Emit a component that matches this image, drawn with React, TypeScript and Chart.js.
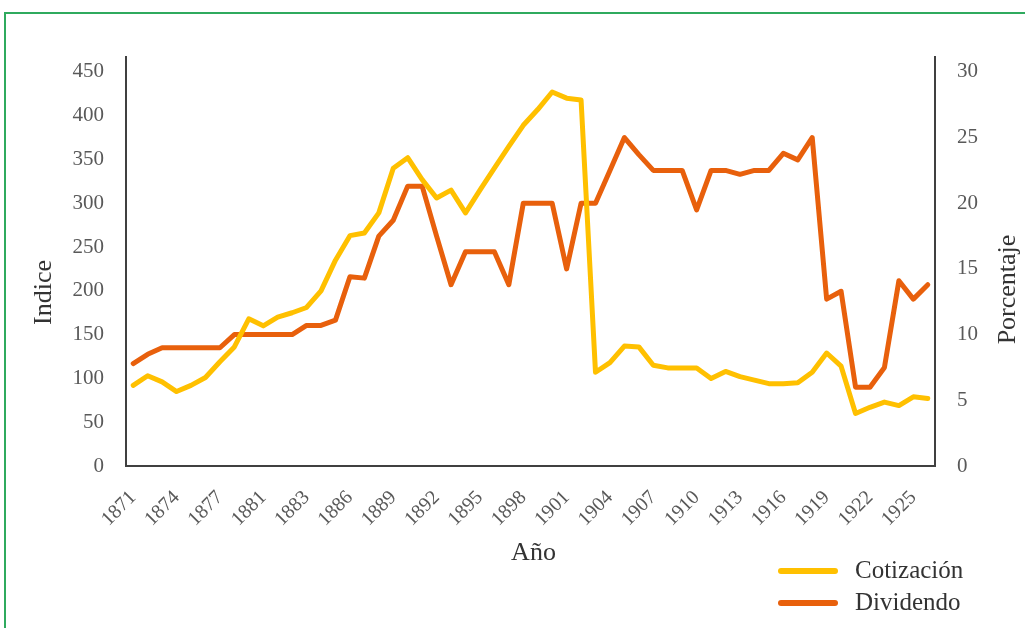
import React, { useEffect, useRef } from 'react';
import { Chart, registerables } from 'chart.js';

Chart.register(...registerables);

const years: string[] = [
  '1871', '1872', '1873', '1874', '1875', '1876', '1877', '1878', '1879', '1881',
  '1882', '1882', '1883', '1884', '1885', '1886', '1887', '1888', '1889', '1890',
  '1891', '1892', '1893', '1894', '1895', '1896', '1897', '1898', '1899', '1900',
  '1901', '1902', '1903', '1904', '1905', '1906', '1907', '1908', '1909', '1910',
  '1911', '1912', '1913', '1914', '1915', '1916', '1917', '1918', '1919', '1920',
  '1921', '1922', '1923', '1924', '1925', '1926',
];

const cotizacion: number[] = [
  92, 103, 96, 85, 92, 101, 119, 136, 168, 160,
  170, 175, 181, 200, 235, 263, 266, 289, 340, 352,
  327, 306, 315, 289, 315, 340, 365, 389, 407, 427,
  420, 418, 107, 118, 137, 136, 115, 112, 112, 112,
  100, 108, 102, 98, 94, 94, 95, 107, 129, 114,
  60, 67, 73, 69, 79, 77,
];

const dividendo: number[] = [
  7.8, 8.5, 9, 9, 9, 9, 9, 10, 10, 10,
  10, 10, 10.7, 10.7, 11.1, 14.4, 14.3, 17.5, 18.7, 21.3,
  21.3, 17.5, 13.8, 16.3, 16.3, 16.3, 13.8, 20, 20, 20,
  15, 20, 20, 22.5, 25, 23.7, 22.5, 22.5, 22.5, 19.5,
  22.5, 22.5, 22.2, 22.5, 22.5, 23.8, 23.3, 25, 12.7, 13.3,
  6, 6, 7.5, 14.1, 12.7, 13.8,
];

const leftTicks: number[] = [0, 50, 100, 150, 200, 250, 300, 350, 400, 450];
const rightTicks: number[] = [0, 5, 10, 15, 20, 25, 30];

const seriesNames = ['Cotización', 'Dividendo'];
const axisTitles = { x: 'Año', left: 'Indice', right: 'Porcentaje' };

const FONT = '"Liberation Serif", "Times New Roman", serif';
const YELLOW = '#FFC000';
const ORANGE = '#E8600C';
const TEXT = '#333333';
const TICK = '#595959';
const AXIS = '#404040';

const overlay = {
  id: 'overlay',
  afterDraw(chart: any) {
    const c = chart.ctx as CanvasRenderingContext2D;
    const a = chart.chartArea;
    c.save();
    c.fillStyle = TEXT;
    c.font = `26px ${FONT}`;
    c.textAlign = 'center';
    c.textBaseline = 'middle';
    c.fillText(axisTitles.x, (a.left + a.right) / 2 + 3, a.bottom + 87);
    c.save();
    c.translate(44, (a.top + a.bottom) / 2 + 31);
    c.rotate(-Math.PI / 2);
    c.fillText(axisTitles.left, 0, 0);
    c.restore();
    c.save();
    c.translate(a.right + 73, (a.top + a.bottom) / 2 + 28);
    c.rotate(-Math.PI / 2);
    c.fillText(axisTitles.right, 0, 0);
    c.restore();
    // legend
    c.font = `25px ${FONT}`;
    chart.data.datasets.forEach((ds: any, i: number) => {
      const y = 571 + i * 32;
      c.strokeStyle = ds.borderColor;
      c.lineWidth = 6;
      c.lineCap = 'round';
      c.beginPath();
      c.moveTo(781, y);
      c.lineTo(835, y);
      c.stroke();
      c.textAlign = 'left';
      c.fillText(ds.label, 855, y);
    });
    c.restore();
  },
};

export default function App() {
  const ref = useRef<HTMLCanvasElement>(null);
  useEffect(() => {
    document.body.style.margin = '0';
    const canvas = ref.current;
    if (!canvas) return;
    const chart = new Chart(canvas, {
      type: 'line',
      data: {
        labels: years,
        datasets: [
          {
            label: seriesNames[0],
            data: cotizacion,
            yAxisID: 'y',
            borderColor: YELLOW,
            backgroundColor: YELLOW,
            borderWidth: 5,
            pointRadius: 0,
            tension: 0,
            borderJoinStyle: 'round',
            borderCapStyle: 'round',
          },
          {
            label: seriesNames[1],
            data: dividendo,
            yAxisID: 'y1',
            borderColor: ORANGE,
            backgroundColor: ORANGE,
            borderWidth: 5,
            pointRadius: 0,
            tension: 0,
            borderJoinStyle: 'round',
            borderCapStyle: 'round',
          },
        ],
      },
      options: {
        responsive: false,
        animation: false,
        events: [],
        layout: { padding: { top: 57, left: 0, right: 0, bottom: 0 } },
        plugins: { legend: { display: false }, tooltip: { enabled: false } },
        scales: {
          x: {
            offset: true,
            grid: { display: false, drawTicks: false },
            border: { display: true, color: AXIS, width: 2 },
            ticks: {
              autoSkip: false,
              minRotation: 45,
              maxRotation: 45,
              padding: 20,
              color: TICK,
              font: { family: FONT, size: 20 },
              callback: (_v: any, i: number) => (i % 3 === 0 ? years[i] : ''),
            },
            afterFit: (s: any) => { s.height = 162; },
          },
          y: {
            position: 'left',
            min: 0,
            max: 467,
            grid: { display: false, drawTicks: false },
            border: { display: true, color: AXIS, width: 2 },
            ticks: { padding: 22, color: TICK, font: { family: FONT, size: 21 } },
            afterBuildTicks: (s: any) => { s.ticks = leftTicks.map((v) => ({ value: v })); },
            afterFit: (s: any) => { s.width = 126; },
          },
          y1: {
            position: 'right',
            min: 0,
            max: 31.13,
            grid: { display: false, drawTicks: false },
            border: { display: true, color: AXIS, width: 2 },
            ticks: { padding: 22, color: TICK, font: { family: FONT, size: 21 } },
            afterBuildTicks: (s: any) => { s.ticks = rightTicks.map((v) => ({ value: v })); },
            afterFit: (s: any) => { s.width = 90; },
          },
        },
      } as any,
      plugins: [overlay],
    });
    return () => chart.destroy();
  }, []);
  return (
    <div style={{ position: 'relative', width: 1025, height: 628, overflow: 'hidden', background: '#fff' }}>
      <div
        style={{
          position: 'absolute', left: 4, top: 12, width: 1040, height: 640,
          borderTop: '2px solid #2FAA5E', borderLeft: '2px solid #2FAA5E',
        }}
      />
      <canvas ref={ref} width={1025} height={628} style={{ position: 'absolute', left: 0, top: 0, display: 'block' }} />
    </div>
  );
}
